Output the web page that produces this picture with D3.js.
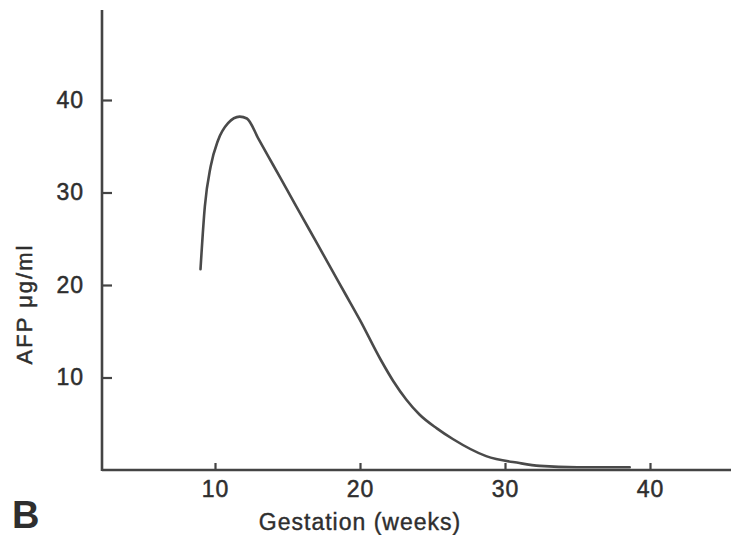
<!DOCTYPE html>
<html>
<head>
<meta charset="utf-8">
<script src="https://cdn.jsdelivr.net/npm/d3@7"></script>
<style>
  body { margin: 0; background: #fff; }
  svg text { font-family: "Liberation Sans", Arial, sans-serif; fill: #2e2e2e; }
</style>
</head>
<body>
<div id="chart"></div>
<script>
// Step 1: Data
// =================================
var weeks = [9, 9.3, 9.7, 10.2, 10.9, 11.7, 12.2, 13, 14, 15, 16, 17, 18, 19, 20, 21.4, 22.3, 23.2, 24.1, 25.3, 26.4, 28.7, 31, 32.4, 35, 38.6];
var afp   = [21.7, 28.5, 32.8, 35.6, 37.5, 38.2, 38.0, 35.8, 33.0, 30.2, 27.4, 24.6, 21.8, 19.0, 16.2, 12.0, 9.6, 7.6, 6.0, 4.5, 3.35, 1.5, 0.75, 0.45, 0.3, 0.3];
var xTicks = [10, 20, 30, 40];
var yTicks = [10, 20, 30, 40];

var data = weeks.map((w, i) => ({week: w, afp: afp[i]}));

// Step 2: Set up our chart
// =================================
var svgWidth  = 731;
var svgHeight = 535;

var axisX = 102;   // left axis position
var axisY = 470;   // bottom axis position

var svg = d3.select("#chart")
  .append("svg")
  .attr("width", svgWidth)
  .attr("height", svgHeight);

// Step 3: Scales
// =================================
var xScale = d3.scaleLinear()
  .domain([10, 40])
  .range([215, 650]);

var yScale = d3.scaleLinear()
  .domain([0, 40])
  .range([axisY, 100]);

// Step 4: Axes (ticks point inward, no domain path)
// =================================
var bottomAxis = d3.axisBottom(xScale)
  .tickValues(xTicks)
  .tickSize(-7)
  .tickPadding(20);

var leftAxis = d3.axisLeft(yScale)
  .tickValues(yTicks)
  .tickSize(-10)
  .tickPadding(18);

var xAxisG = svg.append("g")
  .attr("transform", `translate(0, ${axisY})`)
  .call(bottomAxis);

var yAxisG = svg.append("g")
  .attr("transform", `translate(${axisX}, 0)`)
  .call(leftAxis);

[xAxisG, yAxisG].forEach(g => {
  g.select(".domain").remove();
  g.selectAll(".tick line")
    .attr("stroke", "#444")
    .attr("stroke-width", 2.2);
  g.selectAll(".tick text")
    .attr("font-size", 23)
    .attr("letter-spacing", 1)
    .attr("fill", "#2e2e2e")
    .attr("stroke", "#2e2e2e")
    .attr("stroke-width", 0.5);
});

xAxisG.selectAll(".tick text").attr("dy", "0.3em");

// axis lines drawn across the full frame
svg.append("line")
  .attr("x1", axisX).attr("x2", svgWidth)
  .attr("y1", axisY).attr("y2", axisY)
  .attr("stroke", "#444")
  .attr("stroke-width", 2.6);

svg.append("line")
  .attr("x1", axisX).attr("x2", axisX)
  .attr("y1", 10).attr("y2", axisY + 1)
  .attr("stroke", "#444")
  .attr("stroke-width", 2.6);

// Step 5: The AFP curve
// =================================
var line = d3.line()
  .x(d => xScale(d.week))
  .y(d => yScale(d.afp))
  .curve(d3.curveMonotoneX);

svg.append("path")
  .datum(data)
  .attr("d", line)
  .attr("fill", "none")
  .attr("stroke", "#4a4a4a")
  .attr("stroke-width", 2.6)
  .attr("stroke-linejoin", "round")
  .attr("stroke-linecap", "round");

// Step 6: Labels
// =================================
svg.append("text")
  .attr("x", xScale(20))
  .attr("y", 530)
  .attr("text-anchor", "middle")
  .attr("font-size", 23)
  .attr("letter-spacing", 1)
  .attr("stroke", "#2e2e2e")
  .attr("stroke-width", 0.4)
  .text("Gestation (weeks)");

svg.append("text")
  .attr("transform", "translate(32, 304) rotate(-90)")
  .attr("text-anchor", "middle")
  .attr("font-size", 22)
  .attr("letter-spacing", 2)
  .attr("stroke", "#2e2e2e")
  .attr("stroke-width", 0.5)
  .text("AFP μg/ml");

svg.append("text")
  .attr("x", 12)
  .attr("y", 528)
  .attr("font-size", 38)
  .attr("font-weight", "bold")
  .attr("fill", "#1a1a1a")
  .text("B");
</script>
</body>
</html>
